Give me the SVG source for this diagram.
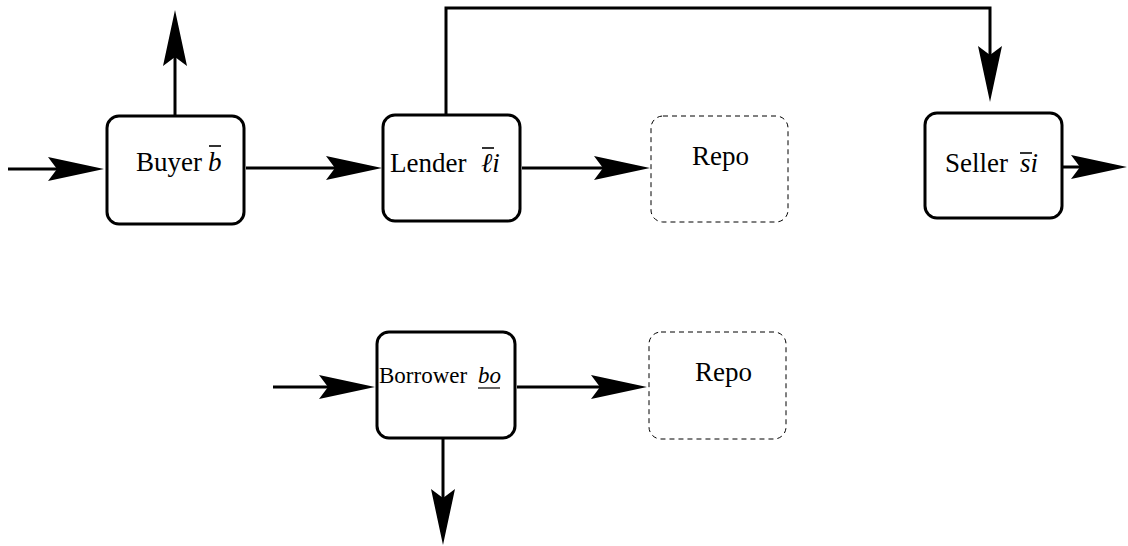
<svg xmlns="http://www.w3.org/2000/svg" width="1128" height="546" viewBox="0 0 1128 546">
<style>
.box{fill:#fff;stroke:#000;stroke-width:3}
.repo{fill:#fff;stroke:#000;stroke-width:1;stroke-dasharray:5,4}
.c{fill:none;stroke:#000;stroke-width:3}
.t{font-family:"Liberation Serif",serif;font-size:27px;fill:#000}
.s{font-size:23px}
.m{font-style:italic}
.bar{stroke:#000;stroke-width:1.6}
</style>
<defs>
<marker id="ah" markerUnits="userSpaceOnUse" orient="auto" markerWidth="58" markerHeight="24" viewBox="0 0 58 24" refX="47" refY="12">
<path d="M57,12 L1,0 L10,12 L1,24 Z" fill="#000"/>
</marker>
</defs>
<g id="connectors">
<line class="c" x1="8" y1="169" x2="94" y2="169" marker-end="url(#ah)"/>
<line class="c" x1="175" y1="116" x2="175" y2="20" marker-end="url(#ah)"/>
<line class="c" x1="246" y1="168" x2="372" y2="168" marker-end="url(#ah)"/>
<line class="c" x1="522" y1="168" x2="640" y2="168" marker-end="url(#ah)"/>
<path class="c" d="M446,115 V8 H990 V92" marker-end="url(#ah)"/>
<line class="c" x1="1063" y1="167" x2="1117" y2="167" marker-end="url(#ah)"/>
<line class="c" x1="273" y1="387" x2="365" y2="387" marker-end="url(#ah)"/>
<line class="c" x1="517" y1="387" x2="637" y2="387" marker-end="url(#ah)"/>
<line class="c" x1="443" y1="438" x2="443" y2="535" marker-end="url(#ah)"/>
</g>
<g id="buyer">
<rect class="box" x="107" y="116" width="137" height="108" rx="12"/>
<text class="t" x="136" y="171">Buyer <tspan class="m" x="208">b</tspan></text>
<line class="bar" x1="209" y1="146" x2="221" y2="146"/>
</g>
<g id="lender">
<rect class="box" x="383" y="115" width="137" height="106" rx="12"/>
<text class="t" x="390" y="172">Lender <tspan class="m" x="481">ℓi</tspan></text>
<line class="bar" x1="482" y1="148" x2="494" y2="148"/>
</g>
<g id="repo1">
<rect class="repo" x="651" y="116" width="137" height="106" rx="12"/>
<text class="t" x="692" y="165">Repo</text>
</g>
<g id="seller">
<rect class="box" x="925" y="113" width="137" height="105" rx="12"/>
<text class="t" x="945" y="172">Seller <tspan class="m" x="1020">si</tspan></text>
<line class="bar" x1="1020" y1="153" x2="1032" y2="153"/>
</g>
<g id="borrower">
<rect class="box" x="377" y="332" width="138" height="106" rx="12"/>
<text class="t s" x="379" y="383">Borrower <tspan class="m" x="478">bo</tspan></text>
<line class="bar" x1="478" y1="388" x2="500" y2="388" style="stroke-width:1.2"/>
</g>
<g id="repo2">
<rect class="repo" x="649" y="332" width="137" height="107" rx="12"/>
<text class="t" x="695" y="381">Repo</text>
</g>
</svg>
